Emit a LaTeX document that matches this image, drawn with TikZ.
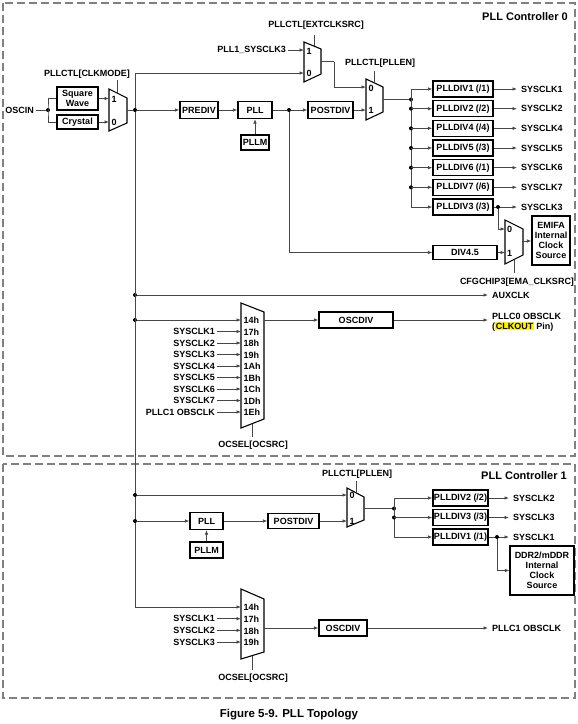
\documentclass[tikz,border=0pt]{standalone}
\usepackage{fontspec}
\setmainfont{Liberation Sans}
\usetikzlibrary{arrows.meta}
\newcommand\hlbox[1]{{\setlength{\fboxsep}{0.6pt}\colorbox{yellow}{#1}}}
\begin{document}
\begin{tikzpicture}[x=1pt,y=-1pt,
  font=\fontsize{9}{10}\selectfont\bfseries,
  conn/.style={draw=black!72, line width=0.8pt},
  arr/.style={conn, -{Latex[length=4.5pt,width=3.6pt]}},
  blk/.style={draw=black, line width=1.3pt, fill=white, inner sep=0pt, minimum height=16pt, align=center},
  muxs/.style={draw=black, line width=1.1pt, fill=white, line join=miter},
  dot/.style={circle, fill=black, inner sep=0pt, minimum size=4pt},
  lbl/.style={inner sep=0pt},
  port/.style={inner sep=0pt, anchor=west},
  outl/.style={anchor=west, inner xsep=4pt, inner ysep=0pt},
  srcl/.style={anchor=east, inner xsep=1.5pt, inner ysep=0pt},
  frame/.style={draw=black!50, line width=1.2pt, dash pattern=on 8pt off 4pt}
]
\useasboundingbox (0,0) rectangle (578,724);
% frames
\draw[frame] (3,3) rectangle (575,456);
\draw[frame] (3,464) rectangle (575,698);
\node[lbl, anchor=east, font=\fontsize{11}{12}\selectfont\bfseries] (t0) at (568,17) {PLL Controller 0};
\node[lbl, anchor=east, font=\fontsize{11}{12}\selectfont\bfseries] (t1) at (567,476) {PLL Controller 1};
\node[lbl, font=\fontsize{11.5}{12}\selectfont\bfseries] (cap) at (289,715) {Figure 5-9. PLL Topology};

% ---------- oscillator input
\node[lbl, anchor=east, inner xsep=2pt] (oscin) at (36,110) {OSCIN};
\node[dot] (d1) at (48,110) {};
\node[blk, minimum width=41pt, minimum height=23pt] (sq) at (77.5,98.5) {Square\\Wave};
\node[blk, minimum width=41pt, minimum height=14pt] (cr) at (77.5,122) {Crystal};
\draw[conn] (oscin) -- (d1);
\draw[conn] (sq.west) -| (d1.center) |- (cr.west);
% mux 1
\draw[muxs] (109,89) -- (127,98) -- (127,123) -- (109,131) -- cycle;
\coordinate (m1a) at (109,98.5);
\coordinate (m1b) at (109,122);
\coordinate (m1o) at (127,110);
\coordinate (m1c) at (117,93);
\node[port] at (111.5,99) {1};
\node[port] at (111.5,122.5) {0};
\draw[arr] (sq.east) -- (m1a);
\draw[arr] (cr.east) -- (m1b);
\node[lbl] (clkmode) at (87,74) {PLLCTL[CLKMODE]};
\draw[conn] (m1c) -- ++(0,-13);
\node[dot] (d2) at (135,110) {};
\draw[conn] (m1o) -- (d2);

% ---------- main chain
\node[blk, minimum width=38pt, minimum height=17pt] (prediv) at (199,110) {PREDIV};
\node[blk, minimum width=34pt, minimum height=17pt] (pll) at (255,110) {PLL};
\node[blk, minimum width=28pt, minimum height=15pt] (pllm) at (255,142.5) {PLLM};
\node[dot] (d3) at (289,110) {};
\node[blk, minimum width=45pt, minimum height=17pt] (postdiv) at (330.5,110) {POSTDIV};
\draw[arr] (d2) -- (prediv);
\draw[arr] (prediv) -- (pll);
\draw[arr] (pllm) -- (pll);
\draw[conn] (pll) -- (d3);
\draw[arr] (d3) -- (postdiv);

% mux 2 (EXTCLKSRC)
\draw[muxs] (304,42) -- (321,49) -- (321,74) -- (304,82) -- cycle;
\coordinate (m2a) at (304,50);
\coordinate (m2b) at (304,73);
\coordinate (m2o) at (321,61.5);
\coordinate (m2c) at (314,46.1);
\node[port] at (306.5,51) {1};
\node[port] at (306.5,73.5) {0};
\node[lbl, anchor=east, inner xsep=2pt] (pll1s3) at (288,50) {PLL1\_SYSCLK3};
\draw[arr] (pll1s3) -- (m2a);
\node[lbl] (extclk) at (316,25) {PLLCTL[EXTCLKSRC]};
\draw[conn] (m2c) -- ++(0,-11);
\draw[arr] (d2) |- (m2b);
\coordinate (m2k) at (334,61.5);

% mux 3 (PLLEN)
\draw[muxs] (366,79) -- (383,87) -- (383,112) -- (366,120) -- cycle;
\coordinate (m3a) at (366,87);
\coordinate (m3b) at (366,110);
\coordinate (m3o) at (383,99.5);
\coordinate (m3c) at (374,82.8);
\node[port] at (368.5,88) {0};
\node[port] at (368.5,110.5) {1};
\node[lbl] (pllen0) at (380,63) {PLLCTL[PLLEN]};
\draw[conn] (m3c) -- ++(0,-12);
\draw[conn] (m2o) -- (m2k);
\draw[arr] (m2k) |- (m3a);
\draw[arr] (postdiv) -- (m3b);

% dividers bus
\node[dot] (b0) at (411,99.5) {};
\draw[conn] (m3o) -- (b0);
\node[blk, minimum width=60pt] (pd0) at (463,89) {PLLDIV1 (/1)};
\node[blk, minimum width=60pt] (pd1) at (463,108.7) {PLLDIV2 (/2)};
\node[blk, minimum width=60pt] (pd2) at (463,128.3) {PLLDIV4 (/4)};
\node[blk, minimum width=60pt] (pd3) at (463,148) {PLLDIV5 (/3)};
\node[blk, minimum width=60pt] (pd4) at (463,167.7) {PLLDIV6 (/1)};
\node[blk, minimum width=60pt] (pd5) at (463,187.3) {PLLDIV7 (/6)};
\node[blk, minimum width=60pt] (pd6) at (463,207) {PLLDIV3 (/3)};
\node[outl] (sc0) at (517,89) {SYSCLK1};
\node[outl] (sc1) at (517,108.7) {SYSCLK2};
\node[outl] (sc2) at (517,128.3) {SYSCLK4};
\node[outl] (sc3) at (517,148) {SYSCLK5};
\node[outl] (sc4) at (517,167.7) {SYSCLK6};
\node[outl] (sc5) at (517,187.3) {SYSCLK7};
\node[outl] (sc6) at (517,207) {SYSCLK3};
\coordinate (bs0) at (411,89);
\coordinate (bs6) at (411,207);
\draw[conn] (bs0) -- (bs6);
\foreach \i in {1,...,5} {\node[dot] at (411,{89+19.667*\i}) {};}
\foreach \i in {0,...,6} {
  \draw[arr] (pd\i.west -| bs0) -- (pd\i.west);
  \draw[arr] (pd\i) -- (sc\i);
}
% EMIFA mux
\node[dot] (d4) at (498,207) {};
\draw[muxs] (505,220) -- (523,229) -- (523,255) -- (505,264) -- cycle;
\coordinate (m4a) at (505,229);
\coordinate (m4b) at (505,252.5);
\coordinate (m4o) at (523,241);
\coordinate (m4c) at (514,259.5);
\node[port] at (507,229.5) {0};
\node[port] at (507,253) {1};
\draw[arr] (d4) |- (m4a);
\node[blk, minimum width=64pt, minimum height=14pt] (div45) at (465,252.5) {DIV4.5};
\draw[arr] (d3) |- (div45);
\draw[arr] (div45) -- (m4b);
\node[blk, minimum width=38pt, minimum height=49pt] (emifa) at (551,240.5) {EMIFA\\Internal\\Clock\\Source};
\draw[arr] (m4o) -- (m4o -| emifa.west);
\node[lbl] (emasrc) at (517,282) {CFGCHIP3[EMA\_CLKSRC]};
\draw[conn] (m4c) -- ++(0,13.5);

% AUXCLK
\node[dot] (d5) at (135,295) {};
\node[outl] (aux) at (488,295) {AUXCLK};
\draw[arr] (d5) -- (aux);

% OBSCLK mux 0
\node[dot] (d6) at (135,320) {};
\draw[muxs] (241,303) -- (264,312) -- (264,419) -- (241,428) -- cycle;
\foreach \i/\h in {0/14h,1/17h,2/18h,3/19h,4/1Ah,5/1Bh,6/1Ch,7/1Dh,8/1Eh} {
  \coordinate (m5i\i) at (241,{320+11.5*\i});
  \node[port] at (243.5,{320.5+11.5*\i}) {\h};
}
\draw[arr] (d6) -- (m5i0);
\foreach \i/\s in {1/SYSCLK1,2/SYSCLK2,3/SYSCLK3,4/SYSCLK4,5/SYSCLK5,6/SYSCLK6,7/SYSCLK7,8/PLLC1 OBSCLK} {
  \node[srcl] (sa\i) at (216.5,{320+11.5*\i}) {\s};
  \draw[arr] (sa\i) -- (m5i\i);
}
\coordinate (m5o) at (264,320);
\coordinate (m5c) at (252,423.7);
\node[blk, minimum width=74pt] (osc0) at (356,320) {OSCDIV};
\draw[arr] (m5o) -- (osc0);
\node[outl, align=left] (obs0) at (488,322) {PLLC0 OBSCLK\\(\hlbox{CLKOUT} Pin)};
\draw[arr] (osc0) -- (osc0.east -| obs0.west);
\draw[conn] (m5c) -- ++(0,13.3);
\node[lbl] (ocsel0) at (253,445) {OCSEL[OCSRC]};

% vertical trunk
\coordinate (v0) at (135,607);
\draw[conn] (d2) -- (v0);

% ---------- PLL controller 1
\node[dot] (d7) at (135,495) {};
\node[dot] (d8) at (135,521) {};
\draw[muxs] (347,488) -- (364,497) -- (364,520) -- (347,527) -- cycle;
\coordinate (m7a) at (347,495);
\coordinate (m7b) at (347,521);
\coordinate (m7o) at (364,508.5);
\coordinate (m7c) at (356,492.8);
\node[port] at (349.5,495.5) {0};
\node[port] at (349.5,521.5) {1};
\draw[arr] (d7) -- (m7a);
\node[blk, minimum width=33pt, minimum height=17pt] (pll2) at (206.5,521) {PLL};
\node[blk, minimum width=33pt, minimum height=16pt] (pllm2) at (206.5,550) {PLLM};
\node[blk, minimum width=51pt, minimum height=15pt] (postdiv2) at (293.5,521) {POSTDIV};
\draw[arr] (d8) -- (pll2);
\draw[arr] (pllm2) -- (pll2);
\draw[arr] (pll2) -- (postdiv2);
\draw[arr] (postdiv2) -- (m7b);
\node[lbl] (pllen1) at (357,474) {PLLCTL[PLLEN]};
\draw[conn] (m7c) -- ++(0,-12);
\node[dot] (b1) at (394,508.5) {};
\draw[conn] (m7o) -- (b1);
\node[blk, minimum width=55pt] (pe0) at (460.5,498) {PLLDIV2 (/2)};
\node[blk, minimum width=55pt] (pe1) at (460.5,517.5) {PLLDIV3 (/3)};
\node[blk, minimum width=55pt] (pe2) at (460.5,537) {PLLDIV1 (/1)};
\node[outl] (se0) at (509,498) {SYSCLK2};
\node[outl] (se1) at (509,517.5) {SYSCLK3};
\node[outl] (se2) at (509,537) {SYSCLK1};
\coordinate (bt0) at (394,498);
\coordinate (bt2) at (394,537);
\draw[conn] (bt0) -- (bt2);
\node[dot] at (394,517.5) {};
\foreach \i in {0,1,2} {
  \draw[arr] (pe\i.west -| bt0) -- (pe\i.west);
  \draw[arr] (pe\i) -- (se\i);
}
\node[dot] (d9) at (497,537) {};
\node[blk, minimum width=64pt, minimum height=49pt] (ddr) at (542,570.5) {DDR2/mDDR\\Internal\\Clock\\Source};
\draw[arr] (d9) |- (ddr.west);

% OBSCLK mux 1
\draw[muxs] (241,589) -- (264,599) -- (264,652) -- (241,659) -- cycle;
\foreach \i/\h in {0/14h,1/17h,2/18h,3/19h} {
  \coordinate (m6i\i) at (241,{607+11.67*\i});
  \node[port] at (243.5,{607.5+11.67*\i}) {\h};
}
\draw[arr] (v0) -- (m6i0);
\foreach \i/\s in {1/SYSCLK1,2/SYSCLK2,3/SYSCLK3} {
  \node[srcl] (sb\i) at (216.5,{607+11.67*\i}) {\s};
  \draw[arr] (sb\i) -- (m6i\i);
}
\coordinate (m6o) at (264,628);
\coordinate (m6c) at (252,655.7);
\node[blk, minimum width=48pt] (osc1) at (343,628) {OSCDIV};
\draw[arr] (m6o) -- (osc1);
\node[outl] (obs1) at (488,628) {PLLC1 OBSCLK};
\draw[arr] (osc1) -- (obs1);
\draw[conn] (m6c) -- ++(0,14.3);
\node[lbl] (ocsel1) at (253,678) {OCSEL[OCSRC]};
\end{tikzpicture}
\end{document}
